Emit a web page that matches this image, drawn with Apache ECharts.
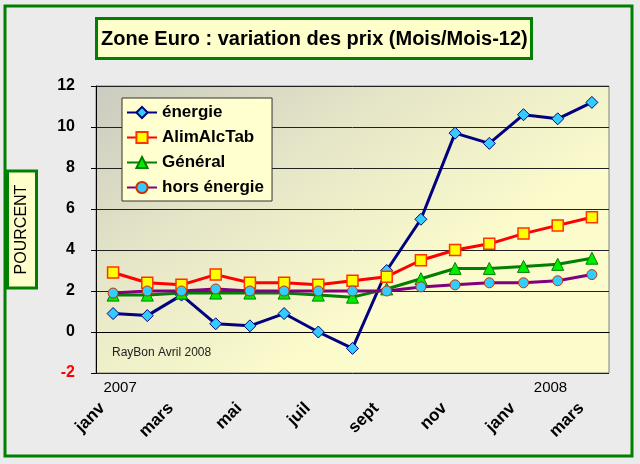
<!DOCTYPE html>
<html><head><meta charset="utf-8">
<script src="https://cdn.jsdelivr.net/npm/echarts@6/dist/echarts.min.js"></script>
<style>html,body{margin:0;padding:0;background:#ebebeb;}#c{width:640px;height:464px;}</style>
</head><body><div id="c"></div>
<script>
const months = ['janv','févr','mars','avr','mai','juin','juil','août','sept','oct','nov','déc','janv','févr','mars'];
const years = ['2007','','','','','','','','','','','','2008','',''];
const energie = [0.9, 0.8, 1.8, 0.4, 0.3, 0.9, 0.0, -0.8, 3.0, 5.5, 9.7, 9.2, 10.6, 10.4, 11.2];
const alimAlcTab = [2.9, 2.4, 2.3, 2.8, 2.4, 2.4, 2.3, 2.5, 2.7, 3.5, 4.0, 4.3, 4.8, 5.2, 5.6];
const general = [1.8, 1.8, 1.9, 1.9, 1.9, 1.9, 1.8, 1.7, 2.1, 2.6, 3.1, 3.1, 3.2, 3.3, 3.6];
const horsEnergie = [1.9, 2.0, 2.0, 2.1, 2.0, 2.0, 2.0, 2.0, 2.0, 2.2, 2.3, 2.4, 2.4, 2.5, 2.8];
const yTicks = {min: -2, max: 12, interval: 2};

const FONT = 'Liberation Sans, Arial, sans-serif';
const chart = echarts.init(document.getElementById('c'));
chart.setOption({
  backgroundColor: '#ebebeb',
  animation: false,
  textStyle: {fontFamily: FONT},
  title: [{
    text: 'Zone Euro : variation des prix (Mois/Mois-12)',
    left: 96, top: 18,
    padding: [11, 4, 10, 5],
    backgroundColor: '#ffffcc',
    borderColor: '#008000', borderWidth: 3,
    textStyle: {fontFamily: FONT, fontSize: 20, fontWeight: 'bold', color: '#000'}
  }, {
    text: 'RayBon Avril 2008',
    left: 112, top: 347, padding: 0,
    textStyle: {fontFamily: FONT, fontSize: 12, fontWeight: 'normal', color: '#222'}
  }],
  graphic: [{
    type: 'rect', silent: true,
    shape: {x: 5, y: 6, width: 627, height: 450},
    style: {fill: 'none', stroke: '#008000', lineWidth: 3}
  }],
  legend: {
    orient: 'vertical', left: 122, top: 98,
    backgroundColor: '#ffffd0', borderColor: '#333', borderWidth: 1,
    padding: [6, 8, 5, 4],
    itemWidth: 30, itemHeight: 14, itemGap: 8,
    textStyle: {fontFamily: FONT, fontSize: 17, fontWeight: 'bold', color: '#000', lineHeight: 17}
  },
  grid: {
    left: 96, right: 31, top: 86, bottom: 91, show: true,
    outerBoundsMode: 'none', containLabel: false,
    borderColor: '#808080', borderWidth: 1,
    backgroundColor: new echarts.graphic.LinearGradient(0, 0, 0.35, 1, [
      {offset: 0, color: '#cbcbc0'}, {offset: 0.5, color: '#e6e6c8'}, {offset: 1, color: '#fbfbcc'}
    ])
  },
  xAxis: [{
    type: 'category', data: months, boundaryGap: true,
    axisLine: {lineStyle: {color: '#000', width: 1}},
    axisTick: {interval: 1, length: 5, lineStyle: {color: '#000'}},
    axisLabel: {interval: 1, rotate: 45, margin: 22, padding: [0, 15, 0, 0], fontFamily: FONT, fontSize: 17, fontWeight: 'bold', color: '#000'}
  }, {
    type: 'category', data: years, position: 'bottom', boundaryGap: true,
    axisLine: {show: false}, axisTick: {show: false},
    axisLabel: {interval: 0, margin: 7, fontFamily: FONT, fontSize: 15, color: '#000',
      formatter: (v, i) => v === '' ? '' : (i === 0 ? '{a|' + v + '}' : '{b|' + v + '}'),
      rich: {a: {fontSize: 15, padding: [0, 0, 0, 14], fontFamily: FONT}, b: {fontSize: 15, padding: [0, 0, 0, 54], fontFamily: FONT}}}
  }],
  yAxis: {
    type: 'value', min: yTicks.min, max: yTicks.max, interval: yTicks.interval,
    name: 'POURCENT', nameLocation: 'middle', nameGap: 61, nameRotate: 90,
    nameTextStyle: {fontFamily: FONT, fontSize: 16, color: '#000', backgroundColor: '#ffffcc',
      borderColor: '#008000', borderWidth: 3, padding: [5, 12, 5, 12]},
    axisLine: {show: true, lineStyle: {color: '#000'}},
    axisTick: {show: true, length: 5, lineStyle: {color: '#000'}},
    splitLine: {lineStyle: {color: '#222', width: 1}},
    axisLabel: {margin: 21, fontFamily: FONT, fontSize: 16, fontWeight: 'bold',
      color: v => (Number(v) < 0 ? '#ff0000' : '#000')}
  },
  series: [{
    name: 'énergie', type: 'line', data: energie,
    symbol: 'diamond', symbolSize: 12,
    lineStyle: {color: '#000080', width: 3},
    itemStyle: {color: '#33ccff', borderColor: '#000080', borderWidth: 1}
  }, {
    name: 'AlimAlcTab', type: 'line', data: alimAlcTab,
    symbol: 'rect', symbolSize: 11,
    lineStyle: {color: '#ff0000', width: 3},
    itemStyle: {color: '#ffff00', borderColor: '#ff3300', borderWidth: 1.5}
  }, {
    name: 'Général', type: 'line', data: general,
    symbol: 'triangle', symbolSize: 12,
    lineStyle: {color: '#008000', width: 3},
    itemStyle: {color: '#00ee00', borderColor: '#008000', borderWidth: 1}
  }, {
    name: 'hors énergie', type: 'line', data: horsEnergie,
    symbol: 'circle', symbolSize: 10,
    lineStyle: {color: '#800080', width: 3},
    itemStyle: {color: '#33ccff', borderColor: '#cc3300', borderWidth: 1}
  }]
});
</script></body></html>
